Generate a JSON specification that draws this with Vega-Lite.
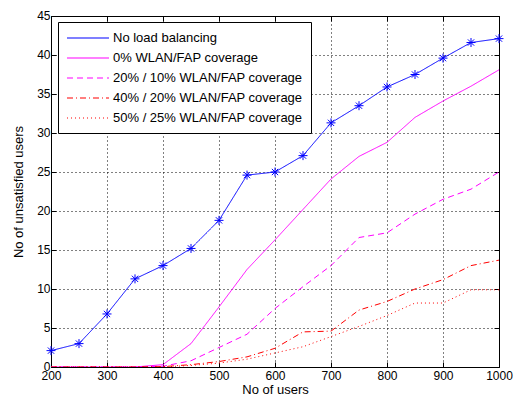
{
  "$schema": "https://vega.github.io/schema/vega-lite/v6.json",
  "width": 448,
  "height": 351,
  "autosize": {"type": "none"},
  "padding": {"left": 51, "top": 16, "right": 17, "bottom": 35},
  "background": "white",
  "config": {
    "view": {"stroke": "black", "strokeWidth": 1},
    "font": "Liberation Sans",
    "axis": {
      "labelFont": "Liberation Sans",
      "labelFontSize": 12,
      "labelColor": "black",
      "titleFont": "Liberation Sans",
      "titleFontSize": 13,
      "titleFontWeight": "normal",
      "titleColor": "black",
      "domain": false,
      "tickColor": "black",
      "tickSize": -5,
      "gridColor": "black",
      "gridDash": [1, 3],
      "gridOpacity": 1,
      "gridWidth": 1
    }
  },
  "data": {
    "values": [
      {"users": 200, "series": "No load balancing", "value": 2.1},
      {"users": 250, "series": "No load balancing", "value": 3.0},
      {"users": 300, "series": "No load balancing", "value": 6.8},
      {"users": 350, "series": "No load balancing", "value": 11.3},
      {"users": 400, "series": "No load balancing", "value": 13.0},
      {"users": 450, "series": "No load balancing", "value": 15.2},
      {"users": 500, "series": "No load balancing", "value": 18.8},
      {"users": 550, "series": "No load balancing", "value": 24.6},
      {"users": 600, "series": "No load balancing", "value": 25.0},
      {"users": 650, "series": "No load balancing", "value": 27.1},
      {"users": 700, "series": "No load balancing", "value": 31.3},
      {"users": 750, "series": "No load balancing", "value": 33.5},
      {"users": 800, "series": "No load balancing", "value": 35.9},
      {"users": 850, "series": "No load balancing", "value": 37.5},
      {"users": 900, "series": "No load balancing", "value": 39.6},
      {"users": 950, "series": "No load balancing", "value": 41.6},
      {"users": 1000, "series": "No load balancing", "value": 42.1},

      {"users": 200, "series": "0% WLAN/FAP coverage", "value": 0},
      {"users": 250, "series": "0% WLAN/FAP coverage", "value": 0},
      {"users": 300, "series": "0% WLAN/FAP coverage", "value": 0},
      {"users": 350, "series": "0% WLAN/FAP coverage", "value": 0},
      {"users": 400, "series": "0% WLAN/FAP coverage", "value": 0.3},
      {"users": 450, "series": "0% WLAN/FAP coverage", "value": 3.0},
      {"users": 500, "series": "0% WLAN/FAP coverage", "value": 7.7},
      {"users": 550, "series": "0% WLAN/FAP coverage", "value": 12.5},
      {"users": 600, "series": "0% WLAN/FAP coverage", "value": 16.3},
      {"users": 650, "series": "0% WLAN/FAP coverage", "value": 20.2},
      {"users": 700, "series": "0% WLAN/FAP coverage", "value": 24.1},
      {"users": 750, "series": "0% WLAN/FAP coverage", "value": 27.0},
      {"users": 800, "series": "0% WLAN/FAP coverage", "value": 28.8},
      {"users": 850, "series": "0% WLAN/FAP coverage", "value": 32.0},
      {"users": 900, "series": "0% WLAN/FAP coverage", "value": 34.1},
      {"users": 950, "series": "0% WLAN/FAP coverage", "value": 36.0},
      {"users": 1000, "series": "0% WLAN/FAP coverage", "value": 38.1},

      {"users": 200, "series": "20% / 10% WLAN/FAP coverage", "value": 0},
      {"users": 250, "series": "20% / 10% WLAN/FAP coverage", "value": 0},
      {"users": 300, "series": "20% / 10% WLAN/FAP coverage", "value": 0},
      {"users": 350, "series": "20% / 10% WLAN/FAP coverage", "value": 0},
      {"users": 400, "series": "20% / 10% WLAN/FAP coverage", "value": 0.1},
      {"users": 450, "series": "20% / 10% WLAN/FAP coverage", "value": 0.8},
      {"users": 500, "series": "20% / 10% WLAN/FAP coverage", "value": 2.5},
      {"users": 550, "series": "20% / 10% WLAN/FAP coverage", "value": 4.2},
      {"users": 600, "series": "20% / 10% WLAN/FAP coverage", "value": 7.5},
      {"users": 650, "series": "20% / 10% WLAN/FAP coverage", "value": 10.3},
      {"users": 700, "series": "20% / 10% WLAN/FAP coverage", "value": 13.0},
      {"users": 750, "series": "20% / 10% WLAN/FAP coverage", "value": 16.6},
      {"users": 800, "series": "20% / 10% WLAN/FAP coverage", "value": 17.2},
      {"users": 850, "series": "20% / 10% WLAN/FAP coverage", "value": 19.6},
      {"users": 900, "series": "20% / 10% WLAN/FAP coverage", "value": 21.5},
      {"users": 950, "series": "20% / 10% WLAN/FAP coverage", "value": 22.8},
      {"users": 1000, "series": "20% / 10% WLAN/FAP coverage", "value": 25.0},

      {"users": 200, "series": "40% / 20% WLAN/FAP coverage", "value": 0},
      {"users": 250, "series": "40% / 20% WLAN/FAP coverage", "value": 0},
      {"users": 300, "series": "40% / 20% WLAN/FAP coverage", "value": 0},
      {"users": 350, "series": "40% / 20% WLAN/FAP coverage", "value": 0},
      {"users": 400, "series": "40% / 20% WLAN/FAP coverage", "value": 0.05},
      {"users": 450, "series": "40% / 20% WLAN/FAP coverage", "value": 0.3},
      {"users": 500, "series": "40% / 20% WLAN/FAP coverage", "value": 0.7},
      {"users": 550, "series": "40% / 20% WLAN/FAP coverage", "value": 1.3},
      {"users": 600, "series": "40% / 20% WLAN/FAP coverage", "value": 2.4},
      {"users": 650, "series": "40% / 20% WLAN/FAP coverage", "value": 4.5},
      {"users": 700, "series": "40% / 20% WLAN/FAP coverage", "value": 4.6},
      {"users": 750, "series": "40% / 20% WLAN/FAP coverage", "value": 7.3},
      {"users": 800, "series": "40% / 20% WLAN/FAP coverage", "value": 8.4},
      {"users": 850, "series": "40% / 20% WLAN/FAP coverage", "value": 10.0},
      {"users": 900, "series": "40% / 20% WLAN/FAP coverage", "value": 11.2},
      {"users": 950, "series": "40% / 20% WLAN/FAP coverage", "value": 13.0},
      {"users": 1000, "series": "40% / 20% WLAN/FAP coverage", "value": 13.7},

      {"users": 200, "series": "50% / 25% WLAN/FAP coverage", "value": 0},
      {"users": 250, "series": "50% / 25% WLAN/FAP coverage", "value": 0},
      {"users": 300, "series": "50% / 25% WLAN/FAP coverage", "value": 0},
      {"users": 350, "series": "50% / 25% WLAN/FAP coverage", "value": 0},
      {"users": 400, "series": "50% / 25% WLAN/FAP coverage", "value": 0},
      {"users": 450, "series": "50% / 25% WLAN/FAP coverage", "value": 0.2},
      {"users": 500, "series": "50% / 25% WLAN/FAP coverage", "value": 0.5},
      {"users": 550, "series": "50% / 25% WLAN/FAP coverage", "value": 1.0},
      {"users": 600, "series": "50% / 25% WLAN/FAP coverage", "value": 1.8},
      {"users": 650, "series": "50% / 25% WLAN/FAP coverage", "value": 2.6},
      {"users": 700, "series": "50% / 25% WLAN/FAP coverage", "value": 3.9},
      {"users": 750, "series": "50% / 25% WLAN/FAP coverage", "value": 5.2},
      {"users": 800, "series": "50% / 25% WLAN/FAP coverage", "value": 6.6},
      {"users": 850, "series": "50% / 25% WLAN/FAP coverage", "value": 8.2},
      {"users": 900, "series": "50% / 25% WLAN/FAP coverage", "value": 8.2},
      {"users": 950, "series": "50% / 25% WLAN/FAP coverage", "value": 9.9},
      {"users": 1000, "series": "50% / 25% WLAN/FAP coverage", "value": 9.9}
    ]
  },
  "layer": [
    {
      "mark": {"type": "line", "strokeWidth": 1, "clip": true},
      "encoding": {
        "x": {
          "field": "users", "type": "quantitative",
          "scale": {"domain": [200, 1000], "nice": false, "zero": false},
          "axis": {"orient": "bottom", "title": "No of users", "format": "d", "values": [200, 300, 400, 500, 600, 700, 800, 900, 1000], "grid": true, "labelPadding": 8, "titlePadding": 2, "labelFlush": false}
        },
        "y": {
          "field": "value", "type": "quantitative",
          "scale": {"domain": [0, 45], "nice": false},
          "axis": {"orient": "left", "title": "No of unsatisfied users", "values": [0, 5, 10, 15, 20, 25, 30, 35, 40, 45], "grid": true, "labelPadding": 6, "labelOffset": -1, "titlePadding": 11, "labelFlush": false}
        },
        "color": {
          "field": "series", "type": "nominal",
          "scale": {
            "domain": ["No load balancing", "0% WLAN/FAP coverage", "20% / 10% WLAN/FAP coverage", "40% / 20% WLAN/FAP coverage", "50% / 25% WLAN/FAP coverage"],
            "range": ["#0000ff", "#ff00ff", "#ff00ff", "#ff0000", "#ff0000"]
          },
          "legend": {
            "title": null,
            "orient": "none",
            "legendX": 7,
            "legendY": 6,
            "fillColor": "white",
            "strokeColor": "black",
            "padding": 8,
            "labelFont": "Liberation Sans",
            "labelFontSize": 13,
            "labelColor": "black",
            "labelLimit": 400,
            "symbolSize": 196,
            "symbolType": "M-1,0L5,0",
            "symbolStrokeWidth": 1.2,
            "labelOffset": 31,
            "rowPadding": 5
          }
        },
        "strokeDash": {
          "field": "series", "type": "nominal",
          "scale": {
            "domain": ["No load balancing", "0% WLAN/FAP coverage", "20% / 10% WLAN/FAP coverage", "40% / 20% WLAN/FAP coverage", "50% / 25% WLAN/FAP coverage"],
            "range": [[1, 0], [1, 0], [6, 4], [6, 3, 1, 3], [1, 3]]
          }
        }
      }
    },
    {
      "transform": [{"filter": "datum.series === 'No load balancing'"}],
      "mark": {
        "type": "point",
        "shape": "M-1,0L1,0M0,-1L0,1M-0.7,-0.7L0.7,0.7M-0.7,0.7L0.7,-0.7",
        "filled": false,
        "size": 81,
        "strokeWidth": 1,
        "color": "#0000ff",
        "opacity": 1
      },
      "encoding": {
        "x": {
          "field": "users", "type": "quantitative",
          "axis": {"orient": "top", "title": null, "labels": false, "grid": false, "values": [200, 300, 400, 500, 600, 700, 800, 900, 1000]}
        },
        "y": {
          "field": "value", "type": "quantitative",
          "axis": {"orient": "right", "title": null, "labels": false, "grid": false, "values": [0, 5, 10, 15, 20, 25, 30, 35, 40, 45]}
        }
      }
    }
  ],
  "resolve": {"axis": {"x": "independent", "y": "independent"}}
}
